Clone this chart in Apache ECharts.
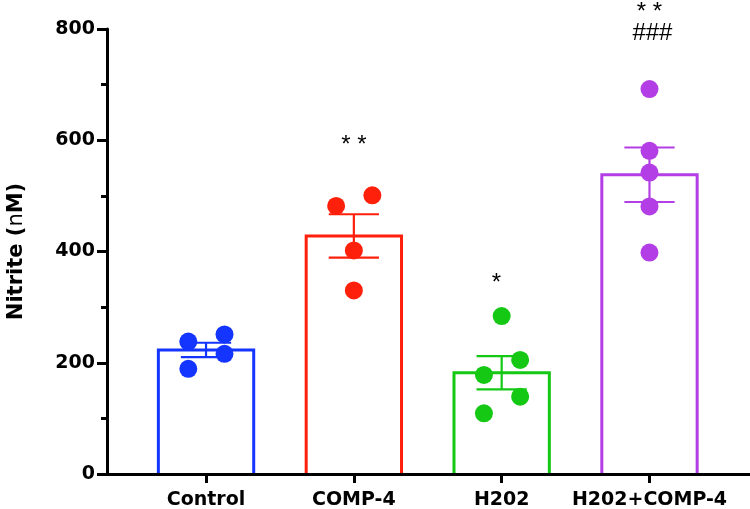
<!DOCTYPE html>
<html>
<head>
<meta charset="utf-8">
<script src="https://cdn.jsdelivr.net/npm/echarts@6/dist/echarts.min.js"></script>
<style>
html,body{margin:0;padding:0;background:#fff;}
#chart{width:750px;height:509px;}
</style>
</head>
<body>
<div id="chart"></div>
<script>
// ---- data ----
const categories = ['Control', 'COMP-4', 'H202', 'H202+COMP-4'];
const groupColors = ['#1434ff', '#ff200c', '#14c814', '#b43ee6'];
const means = [223, 428, 182, 538];
const sems = [13, 39, 30, 49];
// individual points (nM) and horizontal jitter (in category units)
const pointsControl = [238, 251, 216, 189];
const jitterControl = [-0.12, 0.125, 0.125, -0.12];
const pointsComp4 = [482, 501, 402, 330];
const jitterComp4 = [-0.12, 0.125, 0, 0];
const pointsH2O2 = [284, 205, 178, 139, 109];
const jitterH2O2 = [0, 0.125, -0.12, 0.125, -0.12];
const pointsCombo = [692, 581, 542, 481, 398];
const jitterCombo = [0, 0, 0, 0, 0];
// significance marks: text, category position, nM level
const annoText = ['* *', '*', '* *', '###'];
const annoPos = [2, 2.965, 4, 4.02];
const annoLevel = [590, 343, 830, 793];
const yTicks = [0, 200, 400, 600, 800];

// ---- build ----
const groups = [
  [pointsControl, jitterControl],
  [pointsComp4, jitterComp4],
  [pointsH2O2, jitterH2O2],
  [pointsCombo, jitterCombo]
];
const dots = [];
groups.forEach(function (g, gi) {
  g[0].forEach(function (v, i) {
    dots.push({ value: [gi + 1 + g[1][i], v], itemStyle: { color: groupColors[gi], opacity: 1 } });
  });
});
const barData = means.map(function (m, i) { return [i + 1, m]; });
const errData = means.map(function (m, i) { return [i + 1, m - sems[i], m + sems[i]]; });
const annoData = annoText.map(function (t, i) { return [annoPos[i], annoLevel[i], i]; });

const chart = echarts.init(document.getElementById('chart'), null, { renderer: 'canvas' });
const BAR_W = 0.645;
const CAP_W = 0.34;

chart.setOption({
  animation: false,
  backgroundColor: '#fff',
  grid: { left: 107, right: 0, top: 29, bottom: 35, containLabel: false, outerBoundsMode: 'none' },
  xAxis: {
    type: 'value',
    min: 0.33,
    max: 4.68,
    z: 10,
    splitLine: { show: false },
    axisLine: { show: true, onZero: false, lineStyle: { color: '#000', width: 3 } },
    axisTick: { show: true, customValues: [1, 2, 3, 4], length: 9, lineStyle: { color: '#000', width: 3 } },
    axisLabel: {
      customValues: [1, 2, 3, 4],
      formatter: function (v) { return categories[Math.round(v) - 1] || ''; },
      margin: 17,
      color: '#000',
      fontFamily: 'DejaVu Sans',
      fontWeight: 'bold',
      fontSize: 19
    }
  },
  yAxis: {
    type: 'value',
    min: yTicks[0],
    max: yTicks[yTicks.length - 1],
    interval: 200,
    z: 10,
    name: '{b|Nitrite (}{n|n}{b|M)}',
    nameLocation: 'middle',
    nameGap: 80,
    nameTextStyle: {
      rich: {
        b: { fontFamily: 'DejaVu Sans', fontWeight: 'bold', fontSize: 21, color: '#000' },
        n: { fontFamily: 'DejaVu Sans', fontWeight: 'normal', fontSize: 21, color: '#000' }
      }
    },
    splitLine: { show: false },
    axisLine: { show: true, lineStyle: { color: '#000', width: 3 } },
    axisTick: { show: true, length: 10, lineStyle: { color: '#000', width: 3 } },
    minorTick: { show: true, splitNumber: 2, length: 6, lineStyle: { color: '#000', width: 3 } },
    axisLabel: {
      margin: 12,
      color: '#000',
      fontFamily: 'DejaVu Sans',
      fontWeight: 'bold',
      fontSize: 19
    }
  },
  series: [
    {
      type: 'custom',
      z: 2,
      data: barData,
      renderItem: function (params, api) {
        const x = api.value(0), m = api.value(1);
        const p0 = api.coord([x, 0]);
        const p1 = api.coord([x, m]);
        const w = api.size([BAR_W, 0])[0];
        return {
          type: 'polyline',
          shape: { points: [[p0[0] - w / 2, p0[1]], [p0[0] - w / 2, p1[1]], [p0[0] + w / 2, p1[1]], [p0[0] + w / 2, p0[1]]] },
          style: { stroke: groupColors[params.dataIndex], fill: 'none', lineWidth: 3 }
        };
      }
    },
    {
      type: 'custom',
      z: 3,
      data: errData,
      renderItem: function (params, api) {
        const x = api.value(0);
        const lo = api.coord([x, api.value(1)]);
        const hi = api.coord([x, api.value(2)]);
        const w = api.size([CAP_W, 0])[0];
        const c = groupColors[params.dataIndex];
        const st = { stroke: c, lineWidth: 2.2, fill: 'none' };
        return {
          type: 'group',
          children: [
            { type: 'line', shape: { x1: lo[0], y1: lo[1], x2: hi[0], y2: hi[1] }, style: st },
            { type: 'line', shape: { x1: hi[0] - w / 2, y1: hi[1], x2: hi[0] + w / 2, y2: hi[1] }, style: st },
            { type: 'line', shape: { x1: lo[0] - w / 2, y1: lo[1], x2: lo[0] + w / 2, y2: lo[1] }, style: st }
          ]
        };
      }
    },
    {
      type: 'scatter',
      z: 4,
      symbol: 'circle',
      symbolSize: 18,
      itemStyle: { opacity: 1 },
      data: dots
    },
    {
      type: 'custom',
      z: 5,
      clip: false,
      data: annoData,
      renderItem: function (params, api) {
        const p = api.coord([api.value(0), api.value(1)]);
        return {
          type: 'text',
          x: p[0], y: p[1],
          style: {
            text: annoText[params.dataIndex],
            fill: '#000',
            font: 'normal 24px "Liberation Sans", Arial, sans-serif',
            align: 'center',
            verticalAlign: 'middle'
          }
        };
      }
    }
  ]
});
</script>
</body>
</html>
